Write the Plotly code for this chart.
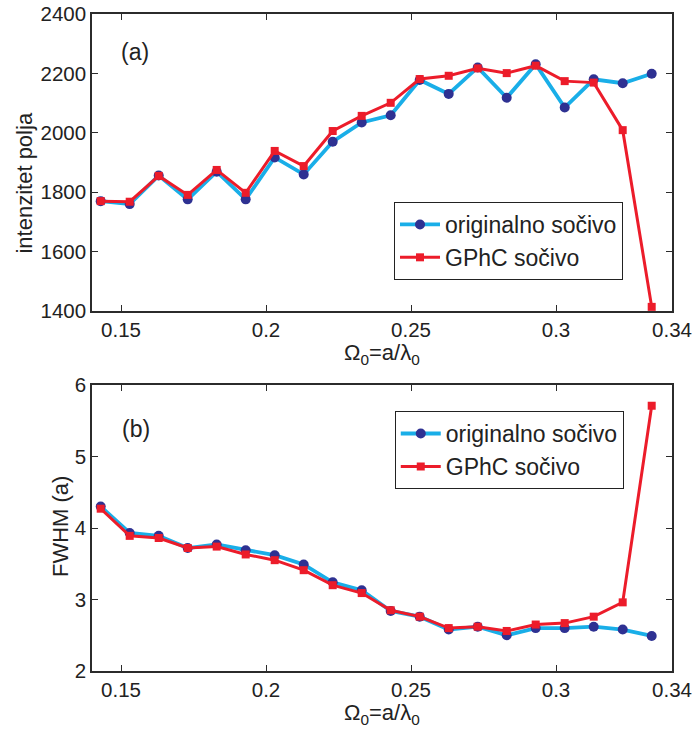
import plotly.graph_objects as go

# normalized frequency Omega_0 = a / lambda_0
omega = [0.143, 0.153, 0.163, 0.173, 0.183, 0.193, 0.203, 0.213, 0.223, 0.233,
         0.243, 0.253, 0.263, 0.273, 0.283, 0.293, 0.303, 0.313, 0.323, 0.333]

# (a) field intensity
intensity_orig = [1770, 1760, 1856, 1776, 1869, 1776, 1917, 1860, 1970, 2035,
                  2059, 2178, 2131, 2220, 2118, 2231, 2085, 2180, 2167, 2199]
intensity_gphc = [1770, 1768, 1855, 1791, 1875, 1798, 1939, 1888, 2006, 2057,
                  2101, 2181, 2192, 2217, 2201, 2226, 2174, 2169, 2009, 1414]

# (b) FWHM in units of a
fwhm_orig = [4.30, 3.93, 3.89, 3.72, 3.77, 3.69, 3.62, 3.49, 3.24, 3.13,
             2.84, 2.76, 2.58, 2.62, 2.50, 2.60, 2.60, 2.62, 2.58, 2.49]
fwhm_gphc = [4.27, 3.89, 3.86, 3.72, 3.74, 3.63, 3.55, 3.41, 3.20, 3.09,
             2.85, 2.76, 2.60, 2.62, 2.56, 2.65, 2.67, 2.76, 2.96, 5.71]

x_ticks = [0.15, 0.2, 0.25, 0.3, 0.34]
x_tick_text = ["0.15", "0.2", "0.25", "0.3", "0.34"]
y1_ticks = [1400, 1600, 1800, 2000, 2200, 2400]
y2_ticks = [2, 3, 4, 5, 6]

names = ["originalno sočivo", "GPhC sočivo"]

CYAN = "#19AEE8"
NAVY = "#2E3192"
RED = "#EC1C2A"
FONT = "Liberation Sans, Arial, sans-serif"
AX = "#2b2b2b"
TXT = "#222222"

fig = go.Figure()

def add_pair(y_orig, y_gphc, xa, ya, legend):
    fig.add_trace(go.Scatter(
        x=omega, y=y_orig, name=names[0], mode="lines+markers",
        line=dict(color=CYAN, width=3.8),
        marker=dict(symbol="circle", color=NAVY, size=10),
        xaxis=xa, yaxis=ya, legend=legend))
    fig.add_trace(go.Scatter(
        x=omega, y=y_gphc, name=names[1], mode="lines+markers",
        line=dict(color=RED, width=3),
        marker=dict(symbol="square", color=RED, size=8),
        xaxis=xa, yaxis=ya, legend=legend))

add_pair(intensity_orig, intensity_gphc, "x", "y", "legend")
add_pair(fwhm_orig, fwhm_gphc, "x2", "y2", "legend2")

axis_common = dict(
    showline=True, linecolor=AX, linewidth=1.5, mirror="ticks",
    ticks="inside", ticklen=6, tickcolor=AX, tickwidth=1,
    showgrid=False, zeroline=False, automargin=False,
    tickfont=dict(family=FONT, size=20.5, color=TXT),
)

fig.update_layout(
    width=696, height=729,
    margin=dict(l=92, r=24, t=14, b=58),
    paper_bgcolor="white", plot_bgcolor="white",
    xaxis=dict(domain=[0, 1], range=[0.14, 0.34], tickvals=x_ticks,
               ticktext=x_tick_text, anchor="y", **axis_common),
    yaxis=dict(domain=[0.5479, 1.0], range=[1400, 2400], tickvals=y1_ticks,
               anchor="x", **axis_common),
    xaxis2=dict(domain=[0, 1], range=[0.14, 0.34], tickvals=x_ticks,
                ticktext=x_tick_text, anchor="y2", **axis_common),
    yaxis2=dict(domain=[0, 0.4353], range=[2, 6], tickvals=y2_ticks,
                anchor="x2", **axis_common),
    legend=dict(x=0.5207, y=0.7139, xanchor="left", yanchor="top",
                bordercolor=TXT, borderwidth=1, bgcolor="white",
                font=dict(family=FONT, size=23, color=TXT),
                tracegroupgap=0, itemwidth=40),
    legend2=dict(x=0.522, y=0.3957, xanchor="left", yanchor="top",
                 bordercolor=TXT, borderwidth=1, bgcolor="white",
                 font=dict(family=FONT, size=23, color=TXT),
                 tracegroupgap=0, itemwidth=40),
    showlegend=True,
)

title_font = dict(family=FONT, size=22, color=TXT)
xtitle = "Ω<sub>0</sub>=a/λ<sub>0</sub>"

# axis titles
fig.add_annotation(text=xtitle, xref="paper", yref="paper", x=0.5, y=0.5068,
                   xanchor="center", yanchor="top", showarrow=False,
                   font=title_font)
fig.add_annotation(text=xtitle, xref="paper", yref="paper", x=0.5, y=-0.041,
                   xanchor="center", yanchor="top", showarrow=False,
                   font=title_font)
fig.add_annotation(text="intenzitet polja", xref="paper", yref="paper",
                   x=-0.1172, y=0.742, xanchor="center", yanchor="middle",
                   textangle=-90, showarrow=False, font=title_font)
fig.add_annotation(text="FWHM (a)", xref="paper", yref="paper",
                   x=-0.0552, y=0.2207, xanchor="center", yanchor="middle",
                   textangle=-90, showarrow=False, font=title_font)

# panel labels
fig.add_annotation(text="(a)", xref="x", yref="y", x=0.1493, y=2272,
                   xanchor="left", yanchor="middle", showarrow=False,
                   font=dict(family=FONT, size=23, color=TXT))
fig.add_annotation(text="(b)", xref="x2", yref="y2", x=0.1497, y=5.39,
                   xanchor="left", yanchor="middle", showarrow=False,
                   font=dict(family=FONT, size=23, color=TXT))

fig.write_html("out.html")
